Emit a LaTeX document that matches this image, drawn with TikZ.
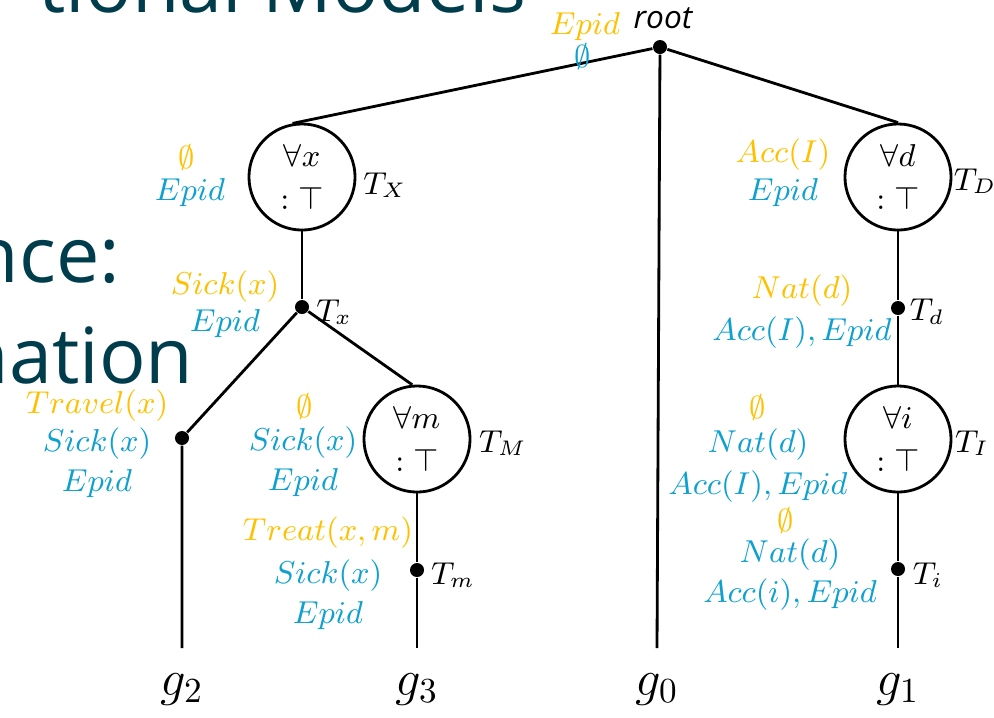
\documentclass[tikz,border=0pt]{standalone}
\usepackage{fontspec}
\setsansfont{Open Sans}
\definecolor{condorange}{RGB}{255,192,0}
\definecolor{evblue}{RGB}{14,160,207}
\definecolor{slideteal}{RGB}{0,61,76}

\begin{document}
\begin{tikzpicture}[x=0.01cm, y=-0.01cm,
    every node/.style={font=\fontsize{8.8}{10.5}\selectfont, inner sep=0.5pt},
    tree/.style={line width=0.8pt},
    quant/.style={circle, draw, line width=0.8pt, minimum size=1.06cm, inner sep=0pt, align=center, font=\fontsize{9.5}{12.5}\selectfont},
    junction/.style={circle, fill, inner sep=0pt, minimum size=0.14cm},
    cond/.style={text=condorange},
    evid/.style={text=evblue},
    leaf/.style={anchor=north, inner ysep=7pt, font=\fontsize{14}{16}\selectfont},
    slide/.style={text=slideteal, font=\sffamily\fontsize{22}{26}\selectfont, inner sep=0pt}]
    \useasboundingbox (0,0) rectangle (994,717);

    % slide text behind the tree
    \begin{scope}
      \clip (0,0) rectangle (994,717);
      \node[slide, anchor=base east] (title) at (527,12) {tional Models};
      \node[slide, anchor=base east] (line1) at (121,282) {nce:};
      \node[slide, anchor=base east] (line2) at (194,383) {nation};
    \end{scope}

    % tree nodes
    \node[junction] (root) at (660,47) {};
    \node[quant] (TX) at (302,177) {$\forall x$\\${:}\;\top$};
    \node[quant] (TD) at (898,177) {$\forall d$\\${:}\;\top$};
    \node[junction] (Tx) at (302,307) {};
    \node[junction] (Td) at (898,308) {};
    \node[junction] (L) at (182,438) {};
    \node[quant] (TM) at (417,439) {$\forall m$\\${:}\;\top$};
    \node[quant] (TI) at (898,439) {$\forall i$\\${:}\;\top$};
    \node[junction] (Tm) at (417,570) {};
    \node[junction] (Ti) at (898,569) {};

    \node[leaf] (g2) at (182,648) {$g_2$};
    \node[leaf] (g3) at (417,648) {$g_3$};
    \node[leaf] (g0) at (657,648) {$g_0$};
    \node[leaf] (g1) at (898,648) {$g_1$};

    \draw[tree] (root) -- (TX.100);
    \draw[tree] (root) -- (TD.north);
    \draw[tree] (root) -- (g0.north);
    \draw[tree] (TX) -- (Tx);
    \draw[tree] (Tx) -- (L) -- (g2.north);
    \draw[tree] (Tx) -- (TM.95);
    \draw[tree] (TM) -- (Tm) -- (g3.north);
    \draw[tree] (TD) -- (Td) -- (TI);
    \draw[tree] (TI) -- (Ti) -- (g1.north);

    % tree labels
    \node[font=\sffamily\itshape\fontsize{9}{11}\selectfont] (rootlbl) at (663,18) {root};
    \node (TXlbl) at (385,185) {$T_X$};
    \node (TDlbl) at (975,181) {$T_D$};
    \node (Txlbl) at (334,312) {$T_x$};
    \node (Tdlbl) at (927,312) {$T_d$};
    \node (TMlbl) at (503,443) {$T_M$};
    \node (TIlbl) at (972,443) {$T_I$};
    \node (Tmlbl) at (453,575) {$T_m$};
    \node (Tilbl) at (928,575) {$T_i$};

    % conditions and evidence
    \node[cond] (c0) at (585,27) {$Epid$};
    \node[evid] (e0) at (583,56) {$\emptyset$};

    \node[cond] (c1) at (187,157) {$\emptyset$};
    \node[evid] (e1) at (190,193) {$Epid$};

    \node[cond] (c2) at (225,287) {$Sick(x)$};
    \node[evid] (e2) at (225,324) {$Epid$};

    \node[cond] (c3) at (97,406) {$Travel(x)$};
    \node[evid] (e3a) at (97,444) {$Sick(x)$};
    \node[evid] (e3b) at (97,484) {$Epid$};

    \node[cond] (c4) at (305,406) {$\emptyset$};
    \node[evid] (e4a) at (303,443) {$Sick(x)$};
    \node[evid] (e4b) at (303,483) {$Epid$};

    \node[cond] (c5) at (328,533) {$Treat(x,m)$};
    \node[evid] (e5a) at (328,576) {$Sick(x)$};
    \node[evid] (e5b) at (328,616) {$Epid$};

    \node[cond] (c6) at (783,155) {$Acc(I)$};
    \node[evid] (e6) at (783,193) {$Epid$};

    \node[cond] (c7) at (802,291) {$Nat(d)$};
    \node[evid] (e7) at (802,333) {$Acc(I), Epid$};

    \node[cond] (c8) at (758,407) {$\emptyset$};
    \node[evid] (e8a) at (758,445) {$Nat(d)$};
    \node[evid] (e8b) at (758,487) {$Acc(I), Epid$};

    \node[cond] (c9) at (786,520) {$\emptyset$};
    \node[evid] (e9a) at (790,555) {$Nat(d)$};
    \node[evid] (e9b) at (790,595) {$Acc(i), Epid$};
\end{tikzpicture}
\end{document}
